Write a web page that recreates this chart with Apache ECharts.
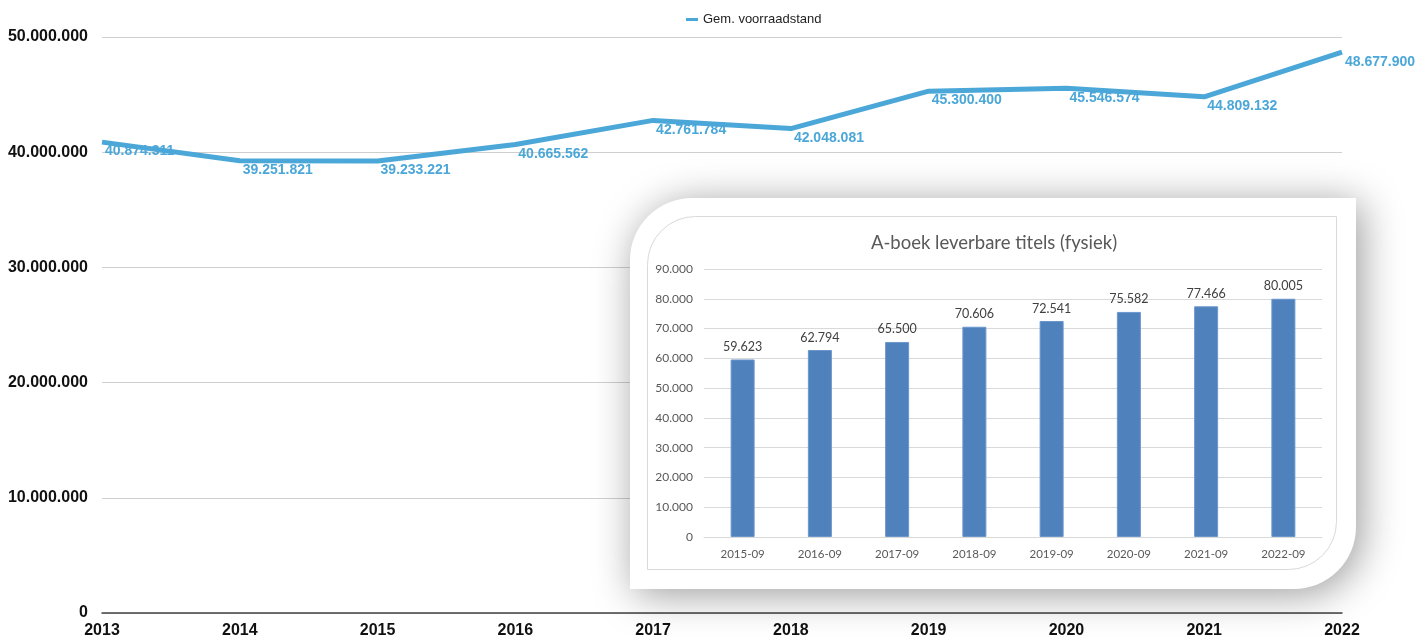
<!DOCTYPE html>
<html lang="nl">
<head>
    <meta charset="UTF-8">
    <title>Gem. voorraadstand</title>
    <script src="https://cdn.jsdelivr.net/npm/echarts@6/dist/echarts.min.js"></script>
    <style>
        *{
            margin: 0;
            padding: 0;
        }
        .container{
            width: 1416px;
            height: 637px;
        }
    </style>
</head>
<body>
<div class="container"></div>
<script>
    // hoofdgrafiek
    const jaren = ['2013', '2014', '2015', '2016', '2017', '2018', '2019', '2020', '2021', '2022'];
    const voorraad = [40874311, 39251821, 39233221, 40665562, 42761784, 42048081, 45300400, 45546574, 44809132, 48677900];

    // inzet
    const peildata = ['2015-09', '2016-09', '2017-09', '2018-09', '2019-09', '2020-09', '2021-09', '2022-09'];
    const titels = [59623, 62794, 65500, 70606, 72541, 75582, 77466, 80005];

    const blauw = '#4ba7d8';
    const mainFont = 'Liberation Sans, Arial, sans-serif';
    const insetFont = 'Lato, Open Sans, sans-serif';

    function fmt(v) {
        return String(v).replace(/\B(?=(\d{3})+(?!\d))/g, '.');
    }

    let main = document.querySelectorAll(".container");
    let mycharts = echarts.init(main[0]);

    let option = {
        backgroundColor: '#fff',
        animation: false,
        title: {
            text: 'A-boek leverbare titels (fysiek)',
            left: 989,
            textAlign: 'center',
            top: 229,
            z: 30,
            textStyle: {
                fontFamily: insetFont,
                fontSize: 18.5,
                fontWeight: 'normal',
                color: '#595959'
            }
        },
        legend: {
            data: [{ name: 'Gem. voorraadstand', itemStyle: { color: blauw, opacity: 1 } }],
            left: 681,
            top: 8,
            icon: 'rect',
            itemWidth: 12,
            itemHeight: 3,
            itemGap: 6,
            textStyle: {
                fontFamily: mainFont,
                fontSize: 13,
                color: '#222'
            }
        },
        graphic: [
            {
                type: 'rect',
                z: 10,
                shape: { x: 630, y: 198, width: 726, height: 391, r: [62, 0, 62, 0] },
                style: {
                    fill: '#fff',
                    shadowBlur: 40,
                    shadowOffsetX: 5,
                    shadowOffsetY: 5,
                    shadowColor: 'rgba(0,0,0,0.4)'
                }
            },
            {
                type: 'rect',
                z: 11,
                shape: { x: 647.5, y: 216.5, width: 689, height: 353, r: [48, 0, 48, 0] },
                style: {
                    fill: 'none',
                    stroke: '#d9d9d9',
                    lineWidth: 1
                }
            }
        ],
        grid: [
            { left: 102, right: 74, top: 37, bottom: 24, outerBoundsMode: 'none' },
            { left: 704, right: 94, top: 269, bottom: 100, outerBoundsMode: 'none' }
        ],
        xAxis: [
            {
                type: 'category',
                gridIndex: 0,
                data: jaren,
                boundaryGap: false,
                axisTick: { show: false },
                axisLine: { lineStyle: { color: '#444', width: 1.5 } },
                axisLabel: {
                    margin: 10,
                    fontFamily: mainFont,
                    fontSize: 16,
                    fontWeight: 'bold',
                    color: '#111'
                }
            },
            {
                type: 'category',
                gridIndex: 1,
                data: peildata,
                z: 20,
                axisTick: { show: false },
                axisLine: { lineStyle: { color: '#d9d9d9' } },
                axisLabel: {
                    margin: 11,
                    fontFamily: insetFont,
                    fontSize: 11.5,
                    color: '#595959'
                }
            }
        ],
        yAxis: [
            {
                type: 'value',
                gridIndex: 0,
                min: 0,
                max: 50000000,
                interval: 10000000,
                axisLine: { show: false },
                axisTick: { show: false },
                splitLine: { lineStyle: { color: '#cfcfcf' } },
                axisLabel: {
                    margin: 14,
                    fontFamily: mainFont,
                    fontSize: 16,
                    fontWeight: 'bold',
                    color: '#111',
                    formatter: fmt
                }
            },
            {
                type: 'value',
                gridIndex: 1,
                min: 0,
                max: 90000,
                interval: 10000,
                z: 20,
                axisLine: { show: false },
                axisTick: { show: false },
                splitLine: { lineStyle: { color: '#d9d9d9' } },
                axisLabel: {
                    margin: 11,
                    fontFamily: insetFont,
                    fontSize: 12,
                    color: '#595959',
                    formatter: fmt
                }
            }
        ],
        series: [
            {
                name: 'Gem. voorraadstand',
                type: 'line',
                xAxisIndex: 0,
                yAxisIndex: 0,
                data: voorraad,
                symbol: 'circle',
                symbolSize: 1,
                itemStyle: { color: 'rgba(0,0,0,0)' },
                lineStyle: { color: blauw, width: 5, join: 'round' },
                label: {
                    show: true,
                    position: 'bottom',
                    distance: 9,
                    offset: [3, 0],
                    align: 'left',
                    verticalAlign: 'middle',
                    fontFamily: mainFont,
                    fontSize: 14,
                    fontWeight: 'bold',
                    color: blauw,
                    formatter: p => fmt(p.value)
                }
            },
            {
                name: 'A-boek',
                type: 'bar',
                xAxisIndex: 1,
                yAxisIndex: 1,
                z: 20,
                data: titels,
                barWidth: 24,
                itemStyle: {
                    color: '#4f81bd',
                    borderColor: '#6b97cc',
                    borderWidth: 1
                },
                label: {
                    show: true,
                    position: 'top',
                    distance: 6,
                    fontFamily: insetFont,
                    fontSize: 12.5,
                    color: '#404040',
                    formatter: p => fmt(p.value)
                }
            }
        ]
    };

    mycharts.setOption(option);
</script>
</body>
</html>
